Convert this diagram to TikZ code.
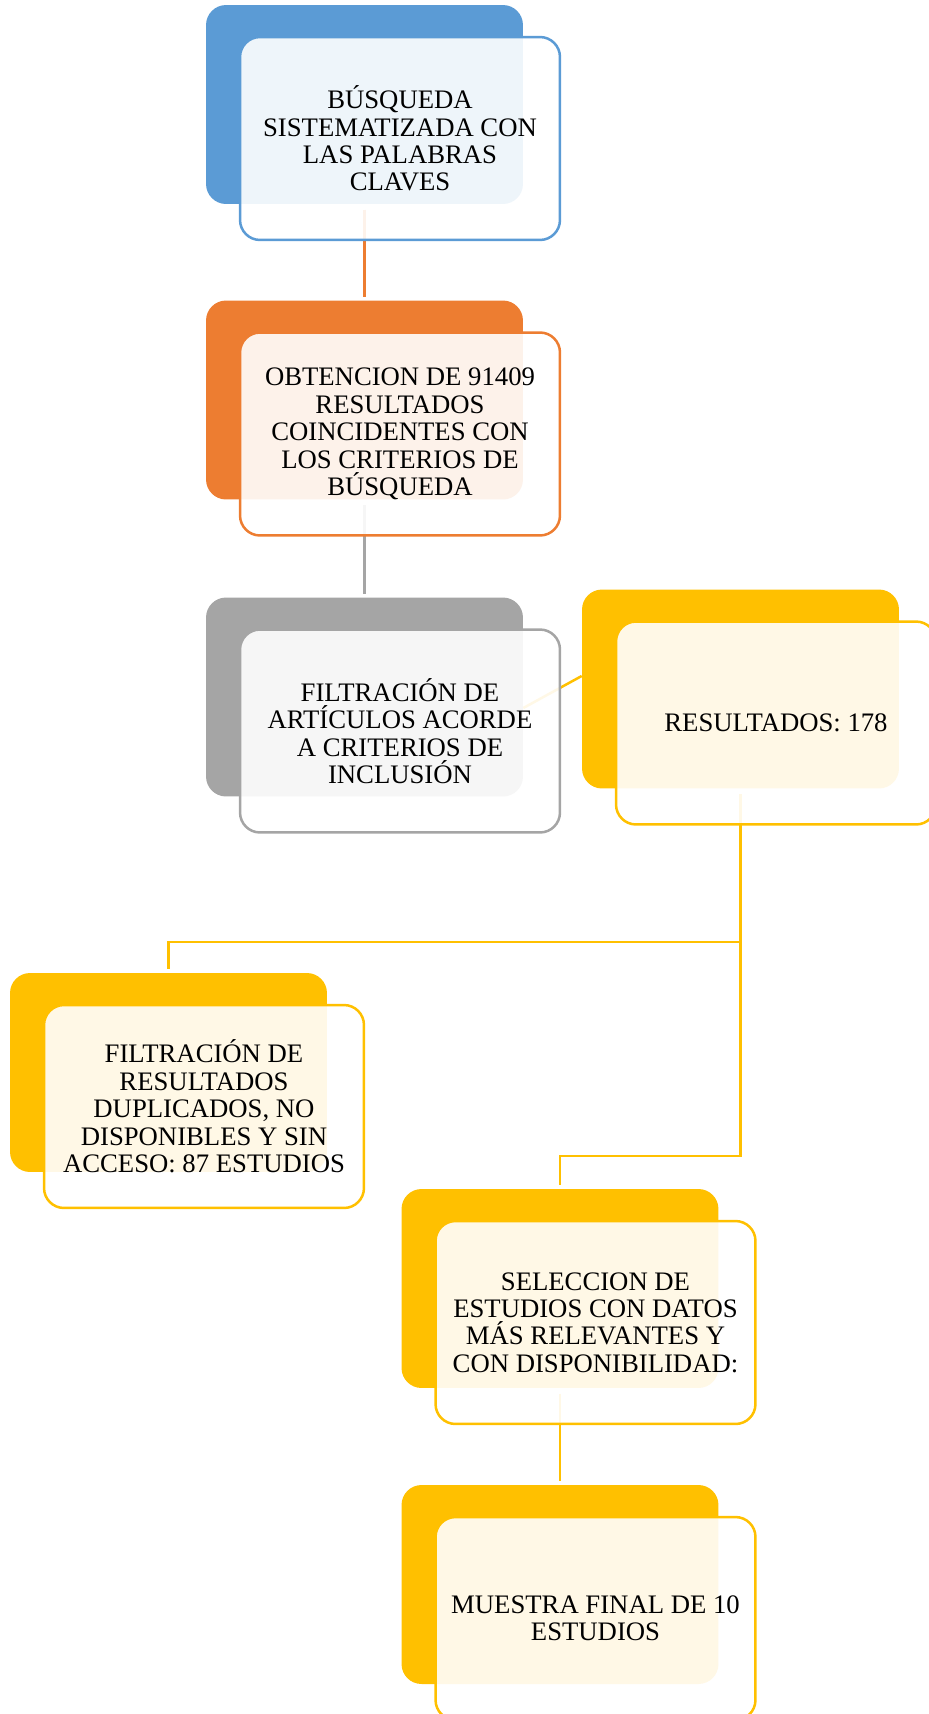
\documentclass[tikz,border=0pt]{standalone}
\usepackage{fontspec}
\setmainfont{Liberation Serif}
\usetikzlibrary{calc}

\definecolor{myblue}{RGB}{91,155,213}
\definecolor{myorange}{RGB}{237,125,49}
\definecolor{mygray}{RGB}{165,165,165}
\definecolor{mygold}{RGB}{255,192,0}

\begin{document}
\begin{tikzpicture}[x=0.02cm, y=-0.02cm]

	\tikzset{backbox/.style={rectangle, rounded corners=0.4cm, fill=#1, minimum width=6.34cm, minimum height=3.98cm, inner sep=0pt}}
	\tikzset{frontbox/.style={rectangle, rounded corners=0.4cm, draw=#1, line width=0.05cm, fill=white, fill opacity=0.9, text opacity=1, minimum width=6.4cm, minimum height=4.06cm, inner sep=0pt, align=center, font=\fontsize{15.2}{15.6}\selectfont}}
	\tikzset{conn/.style={draw=#1, line width=0.05cm, shorten <=3pt, shorten >=2pt}}

	% Parameters
	\def\dx{35.5}   % front box shift
	\def\dy{34}

	\useasboundingbox (0,0) rectangle (929,1714);
	\clip (0,0) rectangle (929,1714);

	%back boxes
	\node[backbox=myblue] (busq-b) at (364.5,104.5) {};
	\node[backbox=myorange] (obt-b) at (364.5,400) {};
	\node[backbox=mygray] (filt-b) at (364.5,697) {};
	\node[backbox=mygold] (res-b) at (740.5,689) {};
	\node[backbox=mygold] (dup-b) at (168.5,1072.5) {};
	\node[backbox=mygold] (sel-b) at (560,1288.5) {};
	\node[backbox=mygold] (mue-b) at (560,1584.5) {};

	%connectors
	\draw[conn=myorange] (busq-b.south) -- (obt-b.north);
	\draw[conn=mygray] (obt-b.south) -- (filt-b.north);
	\draw[conn=mygold, shorten <=0pt, shorten >=0pt] ($(filt-b.east)+(0,11)$) -- ($(res-b.west)+(0,-13)$);
	\draw[conn=mygold] (res-b.south) -- ++(0,153) -| (dup-b.north);
	\draw[conn=mygold] (res-b.south) -- ++(0,367) -| (sel-b.north);
	\draw[conn=mygold] (sel-b.south) -- (mue-b.north);

	%front boxes
	\node[frontbox=myblue] (busq) at ([shift={(\dx,\dy)}]busq-b) {BÚSQUEDA\\SISTEMATIZADA CON\\LAS PALABRAS\\CLAVES};
	\node[frontbox=myorange] (obt) at ([shift={(\dx,\dy)}]obt-b) {OBTENCION DE 91409\\RESULTADOS\\COINCIDENTES CON\\LOS CRITERIOS DE\\BÚSQUEDA};
	\node[frontbox=mygray] (filt) at ([shift={(\dx,\dy)}]filt-b) {FILTRACIÓN DE\\ARTÍCULOS ACORDE\\A CRITERIOS DE\\INCLUSIÓN};
	\node[frontbox=mygold] (res) at ([shift={(\dx,\dy)}]res-b) {RESULTADOS: 178};
	\node[frontbox=mygold] (dup) at ([shift={(\dx,\dy)}]dup-b) {FILTRACIÓN DE\\RESULTADOS\\DUPLICADOS, NO\\DISPONIBLES Y SIN\\ACCESO: 87 ESTUDIOS};
	\node[frontbox=mygold] (sel) at ([shift={(\dx,\dy)}]sel-b) {SELECCION DE\\ESTUDIOS CON DATOS\\MÁS RELEVANTES Y\\CON DISPONIBILIDAD:};
	\node[frontbox=mygold] (mue) at ([shift={(\dx,\dy)}]mue-b) {MUESTRA FINAL DE 10\\ESTUDIOS};

\end{tikzpicture}
\end{document}
